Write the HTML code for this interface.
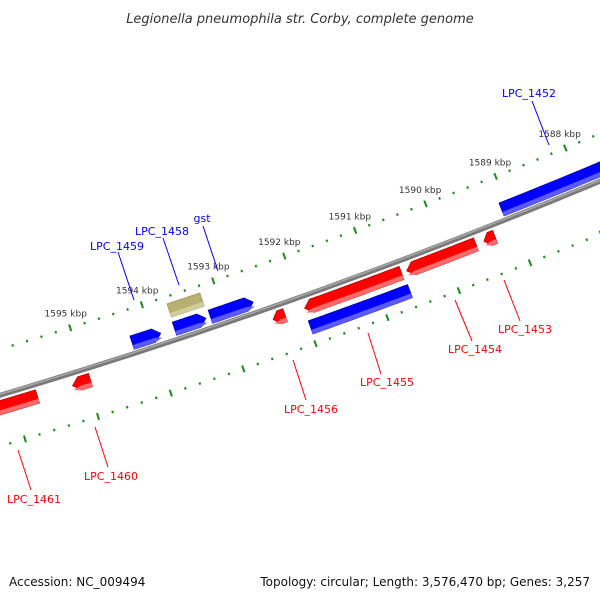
<!DOCTYPE html>
<html><head><meta charset="utf-8">
<style>
body{margin:0;background:#fff;}
svg{display:block;font-family:"DejaVu Sans","Liberation Sans",sans-serif;}
</style></head>
<body>
<svg id="chart" width="600" height="600" viewBox="0 0 600 600" xmlns="http://www.w3.org/2000/svg">
<rect width="600" height="600" fill="#fff"/>
<text x="300" y="23" text-anchor="middle" font-size="13" font-style="italic" fill="#333">Legionella pneumophila str. Corby, complete genome</text>
<g id="ticks"></g>
<g id="backbone"></g>
<g id="genes"></g>
<g font-size="11">
<line x1="532" y1="101" x2="549" y2="145" stroke="#0000ff"/>
<text x="529" y="97" text-anchor="middle" fill="#0000ff">LPC_1452</text>
<line x1="118" y1="252" x2="134" y2="300" stroke="#0000ff"/>
<text x="117" y="250" text-anchor="middle" fill="#0000ff">LPC_1459</text>
<line x1="163" y1="238" x2="179" y2="285" stroke="#0000ff"/>
<text x="162" y="235" text-anchor="middle" fill="#0000ff">LPC_1458</text>
<line x1="203" y1="226" x2="218" y2="271" stroke="#0000ff"/>
<text x="202" y="222" text-anchor="middle" fill="#0000ff">gst</text>
<line x1="504" y1="280" x2="520" y2="321" stroke="#ff0000"/>
<text x="525" y="333" text-anchor="middle" fill="#ff0000">LPC_1453</text>
<line x1="455" y1="300" x2="472" y2="341" stroke="#ff0000"/>
<text x="475" y="353" text-anchor="middle" fill="#ff0000">LPC_1454</text>
<line x1="368" y1="333" x2="381" y2="374" stroke="#ff0000"/>
<text x="387" y="386" text-anchor="middle" fill="#ff0000">LPC_1455</text>
<line x1="293" y1="360" x2="306" y2="400" stroke="#ff0000"/>
<text x="311" y="413" text-anchor="middle" fill="#ff0000">LPC_1456</text>
<line x1="95" y1="427" x2="108" y2="467" stroke="#ff0000"/>
<text x="111" y="480" text-anchor="middle" fill="#ff0000">LPC_1460</text>
<line x1="18" y1="450" x2="31" y2="490" stroke="#ff0000"/>
<text x="34" y="503" text-anchor="middle" fill="#ff0000">LPC_1461</text>
</g>
<text x="9" y="586" font-size="12" fill="#111">Accession: NC_009494</text>
<text x="590" y="586" font-size="12" fill="#111" text-anchor="end">Topology: circular; Length: 3,576,470 bp; Genes: 3,257</text>
</svg>
<script>
const tickLabels = [1588, 1589, 1590, 1591, 1592, 1593, 1594, 1595];
const geneStart = [1586.0, 1594.28, 1593.69, 1593.68, 1593.19, 1592.42, 1591.98, 1591.99, 1590.55, 1589.46, 1595.20, 1597.5];
const geneEnd   = [1589.09, 1593.88, 1593.25, 1593.22, 1592.59, 1592.25, 1590.62, 1590.60, 1589.57, 1589.30, 1594.95, 1595.68];
const geneLane  = ["fwd", "fwd", "fwd", "top", "fwd", "rev", "rev", "low", "rev", "rev", "rev", "rev"];
const geneArrow = ["right", "right", "right", "none", "right", "left", "left", "none", "left", "left", "left", "left"];
const geneNames = ["lpc1452", "lpc1459", "lpc1458", "gst", "gene-blue-5", "lpc1456", "lpc1455", "gene-blue-low", "lpc1454", "lpc1453", "lpc1460", "lpc1461"];

const CX = -1708, CY = -5343;
function ang(k){ return (67.51 + (k - 1588) * 0.7257) * Math.PI / 180; }
function pt(r, k){ const a = ang(k); return [CX + r * Math.cos(a), CY + r * Math.sin(a)]; }
const NS = "http://www.w3.org/2000/svg";
function mk(tag, attrs, parent){ const e = document.createElementNS(NS, tag); for (const a in attrs) e.setAttribute(a, attrs[a]); parent.appendChild(e); return e; }
const lanes = { top: 5957, fwd: 5976, rev: 5999, low: 6019 };
const colors = {
  top: ["#8f8a4a", "#b8b070", "#d2cc98"],
  fwd: ["#00008a", "#0000ff", "#5a5aff"],
  low: ["#00008a", "#0000ff", "#5a5aff"],
  rev: ["#a00000", "#ff0000", "#ff6a6a"]
};

const tg = document.getElementById('ticks');
[5943, 6036].forEach((R, ri) => {
  for (let i = 0; i <= 60; i++) {
    const k = 1586 + i * 0.2;
    const major = Math.abs(k - Math.round(k)) < 0.01;
    const h = major ? 3.5 : 1.2;
    const p1 = pt(R - h, k), p2 = pt(R + h, k);
    const l = mk('line', { x1: p1[0], y1: p1[1], x2: p2[0], y2: p2[1], stroke: '#1a8a1a', 'stroke-width': 2 }, tg);
    
    
  }
});
tickLabels.forEach(k => {
  const p = pt(5928, k);
  const t = mk('text', { x: p[0], y: p[1] + 3, 'text-anchor': 'middle', 'font-size': 9, fill: '#333' }, tg);
  t.textContent = k + ' kbp';
  
  
});

const bg = document.getElementById('backbone');
function arcPath(r, k1, k2){ const a = pt(r, k1), b = pt(r, k2); return `M${a[0]},${a[1]} A${r},${r} 0 0 0 ${b[0]},${b[1]}`; }
const bb = mk('path', { d: arcPath(5987, 1598, 1585), stroke: '#7a7a7a', 'stroke-width': 5, fill: 'none' }, bg);


const bb2 = mk('path', { d: arcPath(5986, 1598, 1585), stroke: '#a8a8a8', 'stroke-width': 1.5, fill: 'none' }, bg);



const gg = document.getElementById('genes');
function genePoly(r0, r1, k1, k2, arrow, rc){
  const ah = 0.1;
  const len = k1 - k2;
  const a = Math.min(ah, len * 0.5);
  const pts = [];
  const N = 20;
  let s = k1, e = k2;
  if (arrow === 'right') e = k2 + a;
  if (arrow === 'left') s = k1 - a;
  for (let i = 0; i <= N; i++) pts.push(pt(r0, s + (e - s) * i / N));
  if (arrow === 'right') pts.push(pt(rc, k2));
  for (let i = N; i >= 0; i--) pts.push(pt(r1, s + (e - s) * i / N));
  if (arrow === 'left') pts.push(pt(rc, k1));
  return pts.map(p => p[0].toFixed(2) + ',' + p[1].toFixed(2)).join(' ');
}
geneStart.forEach((s, i) => {
  const e = geneEnd[i];
  const lane = geneLane[i];
  const rc = lanes[lane];
  const c = colors[lane];
  const g = mk('g', {}, gg);
  
  
  const k1 = Math.max(s, e), k2 = Math.min(s, e);
  mk('polygon', { points: genePoly(rc - 7, rc + 7, k1, k2, geneArrow[i], rc), fill: c[1], stroke: c[0], 'stroke-width': 0.6 }, g);
  mk('polygon', { points: genePoly(rc + 2.5, rc + 7, k1, k2, geneArrow[i], rc + 4.5), fill: c[2] }, g);
});
</script>
</body></html>
